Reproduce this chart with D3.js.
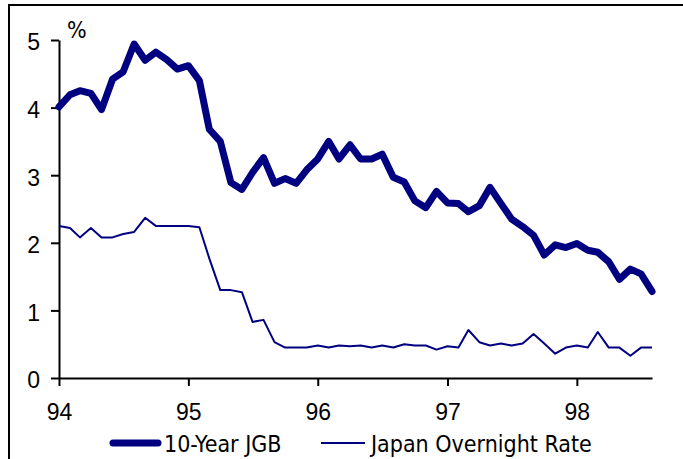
<!DOCTYPE html>
<html>
<head>
<meta charset="utf-8">
<script src="https://cdn.jsdelivr.net/npm/d3@7"></script>
<style>
  body { margin: 0; background: #fff; }
  svg { display: block; font-family: "DejaVu Sans Condensed", "DejaVu Sans", Verdana, sans-serif; font-stretch: condensed; }
  .axis path, .axis line { stroke: #000; stroke-width: 2; }
  .axis text { font-size: 23px; fill: #000; }
</style>
</head>
<body>
<div id="chart"></div>
<script>
// Monthly, Jan 1994 - Aug 1998
const startMonth = new Date(1994, 0, 1);
const endMonth = new Date(1998, 7, 1);

const jgb10y = [
  4.01, 4.19, 4.25, 4.21, 3.97, 4.42, 4.53, 4.94, 4.70, 4.82, 4.71, 4.57,
  4.62, 4.40, 3.68, 3.50, 2.89, 2.79, 3.04, 3.26, 2.88, 2.95, 2.88, 3.08,
  3.24, 3.50, 3.24, 3.45, 3.24, 3.24, 3.31, 2.97, 2.90, 2.62, 2.52, 2.76,
  2.59, 2.58, 2.46, 2.55, 2.82, 2.58, 2.35, 2.24, 2.11, 1.82, 1.97, 1.93,
  1.99, 1.89, 1.86, 1.72, 1.46, 1.61, 1.54, 1.28
];

const overnight = [
  2.25, 2.22, 2.08, 2.22, 2.08, 2.08, 2.13, 2.16, 2.37, 2.25, 2.25, 2.25,
  2.25, 2.23, 1.77, 1.30, 1.30, 1.27, 0.83, 0.86, 0.53, 0.45, 0.45, 0.45,
  0.48, 0.45, 0.48, 0.47, 0.48, 0.45, 0.48, 0.45, 0.50, 0.48, 0.48, 0.42,
  0.47, 0.45, 0.71, 0.53, 0.48, 0.51, 0.48, 0.51, 0.65, 0.51, 0.36, 0.45,
  0.48, 0.45, 0.68, 0.45, 0.45, 0.33, 0.45, 0.45
];

const yTicks = [0, 1, 2, 3, 4, 5];
const xTickYears = [1994, 1995, 1996, 1997, 1998];
const seriesNames = ["10-Year JGB", "Japan Overnight Rate"];

const width = 683, height = 459;
const months = d3.timeMonth.range(startMonth, d3.timeMonth.offset(endMonth, 1));

const svg = d3.select("#chart").append("svg")
  .attr("width", width)
  .attr("height", height);

// outer frame (runs off the page right and bottom)
svg.append("rect")
  .attr("x", 9).attr("y", 5)
  .attr("width", 700).attr("height", 480)
  .attr("fill", "none")
  .attr("stroke", "#000")
  .attr("stroke-width", 2);

const x = d3.scaleTime()
  .domain([startMonth, endMonth])
  .range([59, 652]);

const y = d3.scaleLinear()
  .domain([0, 5])
  .range([378, 40]);

// y axis
const yAxis = svg.append("g")
  .attr("class", "axis")
  .attr("transform", "translate(59,0)")
  .call(d3.axisLeft(y).tickValues(yTicks).tickSize(8).tickSizeOuter(0).tickPadding(11).tickFormat(d3.format("d")));
yAxis.selectAll("text").attr("dy", "0.43em");

// x axis
const xAxis = svg.append("g")
  .attr("class", "axis")
  .attr("transform", "translate(0,378)")
  .call(d3.axisBottom(x)
    .tickValues(xTickYears.map(yr => new Date(yr, 0, 1)))
    .tickSize(8).tickSizeOuter(0)
    .tickFormat(d3.timeFormat("%y")));
xAxis.selectAll("text").attr("y", 42).attr("dy", 0);

svg.append("text")
  .attr("x", 67).attr("y", 37.5)
  .style("font-size", "23px")
  .text("%");

const line = d3.line()
  .x((d, i) => x(months[i]))
  .y(d => y(d));

svg.append("path")
  .datum(overnight)
  .attr("fill", "none")
  .attr("stroke", "#000080")
  .attr("stroke-width", 2)
  .attr("stroke-linejoin", "round")
  .attr("d", line);

svg.append("path")
  .datum(jgb10y)
  .attr("fill", "none")
  .attr("stroke", "#000080")
  .attr("stroke-width", 7)
  .attr("stroke-linejoin", "round")
  .attr("stroke-linecap", "round")
  .attr("d", line);

// legend
const legend = svg.append("g").attr("transform", "translate(0,443)");
const legendItems = [
  { name: seriesNames[0], x: 113, len: 45, w: 7 },
  { name: seriesNames[1], x: 321, len: 44, w: 2 }
];
legendItems.forEach(function(d) {
  legend.append("line")
    .attr("x1", d.x).attr("x2", d.x + d.len)
    .attr("stroke", "#000080")
    .attr("stroke-width", d.w)
    .attr("stroke-linecap", d.w > 2 ? "round" : "butt");
  legend.append("text")
    .attr("x", d.x + d.len + 6)
    .attr("y", 8.5)
    .style("font-size", "23px")
    .text(d.name);
});
</script>
</body>
</html>
